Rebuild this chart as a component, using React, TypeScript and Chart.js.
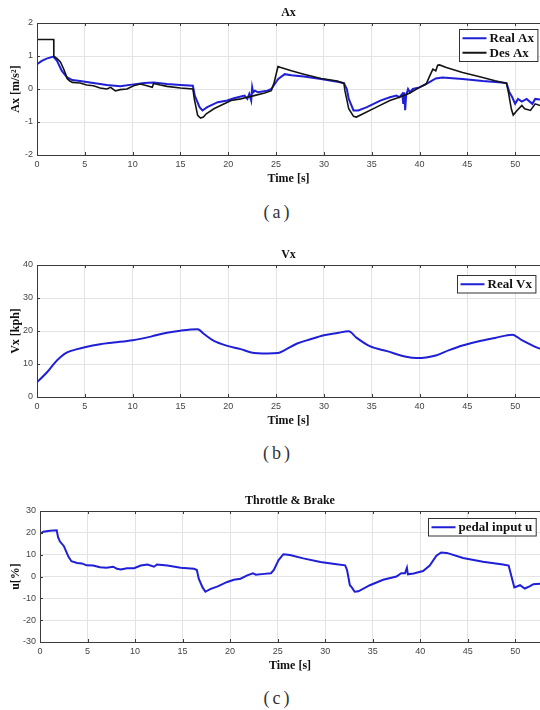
import React, { useEffect, useRef } from "react";
import { Chart, registerables } from "chart.js";

Chart.register(...registerables);

// ---------- data ----------
const X_MAX = 52.6;

const desAxTime = [0, 1.75, 1.76, 2.1, 2.45, 2.8, 3.0, 3.15, 3.4, 3.7, 4.1, 4.5, 5.2, 5.9, 6.6, 7.3, 7.7, 8.2, 8.7, 9.4, 10.1, 10.8, 11.5, 12.05, 12.2, 12.9, 13.6, 15.0, 16.3, 16.45, 16.8, 17.1, 17.4, 17.7, 18.5, 19.2, 20.3, 21.3, 22.0, 22.7, 23.8, 24.5, 24.8, 25.2, 25.5, 26.6, 27.9, 29.7, 31.4, 32.1, 32.2, 32.6, 33.1, 33.4, 34.1, 35.5, 36.9, 37.9, 39.0, 40.0, 40.7, 41.0, 41.4, 41.7, 41.9, 42.1, 42.8, 44.5, 46.2, 47.9, 49.1, 49.3, 49.6, 49.8, 50.2, 50.7, 51.0, 51.6, 52.1, 52.6];
const desAx = [1.5, 1.5, 1.0, 0.92, 0.82, 0.6, 0.45, 0.32, 0.25, 0.2, 0.19, 0.18, 0.12, 0.1, 0.03, 0.0, 0.05, -0.06, -0.02, 0.0, 0.1, 0.15, 0.1, 0.05, 0.17, 0.12, 0.08, 0.03, 0.0, -0.3, -0.8, -0.88, -0.85, -0.75, -0.6, -0.5, -0.35, -0.3, -0.25, -0.2, -0.12, -0.05, 0.2, 0.68, 0.65, 0.55, 0.45, 0.32, 0.24, 0.17, -0.05, -0.6, -0.83, -0.85, -0.75, -0.55, -0.35, -0.25, -0.12, 0.05, 0.15, 0.35, 0.6, 0.55, 0.72, 0.73, 0.65, 0.5, 0.38, 0.25, 0.17, -0.1, -0.6, -0.79, -0.65, -0.5, -0.6, -0.65, -0.45, -0.5];

const realAxTime = [0, 0.5, 1.0, 1.7, 2.1, 2.6, 3.15, 3.7, 4.5, 5.9, 7.3, 8.7, 10.1, 11.2, 12.2, 13.6, 15.0, 16.3, 16.5, 17.0, 17.3, 17.8, 18.9, 19.9, 20.6, 21.7, 22.0, 22.2, 22.4, 22.5, 22.6, 22.8, 23.1, 24.1, 24.5, 25.2, 25.9, 26.6, 27.9, 29.7, 31.4, 32.1, 32.4, 32.6, 33.1, 33.6, 34.5, 35.9, 36.9, 37.6, 37.9, 38.2, 38.3, 38.4, 38.5, 38.6, 38.8, 39.0, 39.3, 40.0, 41.0, 41.7, 42.4, 44.5, 46.6, 48.6, 49.1, 49.4, 49.7, 50.0, 50.3, 50.7, 51.2, 51.8, 52.1, 52.6];
const realAx = [0.75, 0.85, 0.92, 0.98, 0.85, 0.55, 0.35, 0.27, 0.24, 0.18, 0.12, 0.08, 0.14, 0.18, 0.2, 0.15, 0.12, 0.1, -0.2, -0.55, -0.65, -0.55, -0.4, -0.35, -0.28, -0.2, -0.3, -0.15, -0.35, 0.05, -0.1, -0.05, -0.1, -0.05, 0.0, 0.3, 0.45, 0.42, 0.38, 0.3, 0.22, 0.18, 0.0, -0.3, -0.65, -0.65, -0.55, -0.35, -0.25, -0.2, -0.25, -0.15, -0.45, -0.1, -0.64, -0.2, 0.0, -0.1, 0.0, 0.05, 0.2, 0.32, 0.35, 0.3, 0.24, 0.2, 0.18, -0.1, -0.25, -0.45, -0.3, -0.38, -0.3, -0.45, -0.3, -0.32];

const vxTime = [0, 1.05, 1.9, 2.5, 3.15, 4.2, 5.0, 6.6, 8.0, 10.0, 11.9, 13.6, 15.0, 16.8, 17.5, 18.5, 19.9, 21.3, 22.4, 24.1, 25.2, 25.9, 27.2, 28.6, 30.0, 31.4, 32.6, 33.4, 34.8, 36.6, 38.6, 39.7, 40.7, 41.7, 43.1, 44.5, 46.2, 47.9, 49.7, 50.7, 52.1, 52.6];
const realVx = [4.5, 7.5, 10.5, 12.2, 13.5, 14.5, 15.1, 16.0, 16.5, 17.2, 18.3, 19.5, 20.1, 20.5, 19.0, 17.0, 15.5, 14.5, 13.5, 13.2, 13.3, 14.2, 16.2, 17.5, 18.7, 19.4, 19.9, 18.0, 15.4, 13.9, 12.2, 11.8, 12.0, 12.6, 14.2, 15.6, 16.9, 17.9, 18.9, 17.2, 15.2, 14.6];

const pedalTime = [0, 0.35, 1.05, 1.76, 1.9, 2.1, 2.5, 2.6, 3.0, 3.3, 3.9, 4.4, 4.9, 5.6, 6.3, 7.0, 7.7, 8.1, 8.5, 9.15, 9.9, 10.6, 11.3, 12.0, 12.3, 13.4, 14.8, 16.2, 16.5, 16.7, 17.1, 17.4, 17.9, 18.7, 19.7, 20.4, 21.1, 21.8, 22.4, 22.7, 23.6, 24.3, 24.6, 25.1, 25.6, 26.3, 27.7, 29.5, 31.2, 32.1, 32.3, 32.6, 32.8, 33.1, 33.5, 34.7, 36.1, 37.5, 38.0, 38.4, 38.6, 38.7, 39.3, 40.3, 41.0, 41.7, 42.2, 42.8, 44.5, 46.6, 48.7, 49.3, 49.6, 49.9, 50.5, 51.0, 51.5, 51.9, 52.6];
const pedalU = [19.5, 20.5, 21.0, 21.2, 18.0, 16.0, 14.0, 13.0, 9.0, 7.0, 6.2, 6.0, 5.1, 5.0, 4.2, 4.0, 4.5, 3.5, 3.2, 3.8, 3.8, 5.0, 5.5, 4.5, 5.5, 5.0, 4.0, 3.5, 3.0, -1.0, -5.0, -7.0, -5.8, -4.5, -2.5, -1.5, -1.0, 0.5, 1.5, 0.8, 1.2, 1.5, 3.0, 7.5, 10.2, 9.8, 8.3, 6.6, 5.6, 5.1, 3.0, -4.0, -5.0, -7.0, -6.8, -4.0, -1.5, 0.0, 1.5, 1.5, 4.0, 1.0, 1.4, 2.5, 5.0, 9.5, 11.0, 10.8, 8.5, 6.8, 5.5, 5.0, 0.0, -5.0, -4.0, -5.5, -4.5, -3.5, -3.3];

const xTickStep = 5;
const axRange = [-2, 2, 1];
const vxRange = [0, 40, 10];
const uRange = [-30, 30, 10];

// ---------- styles ----------
const BLUE = "#1f1fd6";
const BLACK = "#141414";
const SERIF = "'Liberation Serif', 'Times New Roman', serif";
const SANS = "'Liberation Sans', Arial, sans-serif";

function pts(t: number[], v: number[]) {
  const n = Math.min(t.length, v.length);
  const out: { x: number; y: number }[] = [];
  for (let i = 0; i < n; i++) out.push({ x: t[i], y: v[i] });
  return out;
}

const framePlugin = {
  id: "frame",
  afterDatasetsDraw(chart: any) {
    const { ctx, chartArea: a, scales } = chart;
    ctx.save();
    ctx.strokeStyle = "#3a3a3a";
    ctx.lineWidth = 1;
    ctx.beginPath();
    ctx.moveTo(a.left + 0.5, a.bottom + 0.5);
    ctx.lineTo(a.left + 0.5, a.top + 0.5);
    ctx.lineTo(a.right + 0.5, a.top + 0.5);
    ctx.moveTo(a.left + 0.5, a.bottom + 0.5);
    ctx.lineTo(a.right, a.bottom + 0.5);
    const tl = 3;
    scales.x.ticks.forEach((tk: any) => {
      const px = Math.round(scales.x.getPixelForValue(tk.value)) + 0.5;
      ctx.moveTo(px, a.top);
      ctx.lineTo(px, a.top + tl);
      ctx.moveTo(px, a.bottom);
      ctx.lineTo(px, a.bottom - tl);
    });
    scales.y.ticks.forEach((tk: any) => {
      const py = Math.round(scales.y.getPixelForValue(tk.value)) + 0.5;
      ctx.moveTo(a.left, py);
      ctx.lineTo(a.left + tl, py);
    });
    ctx.stroke();
    ctx.restore();
  },
};

const boxLegendPlugin = {
  id: "boxLegend",
  afterDraw(chart: any, _args: any, opts: any) {
    const { ctx, chartArea: a } = chart;
    const ds = chart.data.datasets;
    ctx.save();
    ctx.font = "bold 13px " + SERIF;
    let tw = 0;
    ds.forEach((d: any) => (tw = Math.max(tw, ctx.measureText(d.label).width)));
    const lineLen = 24;
    const rowH = 14.5;
    const w = 3 + lineLen + 3 + tw + 4;
    const h = ds.length * rowH + 3;
    const right = a.right - (opts.right ?? 3);
    const left = Math.round(right - w) + 0.5;
    const top = Math.round(a.top + (opts.top ?? 6)) + 0.5;
    ctx.fillStyle = "#ffffff";
    ctx.fillRect(left, top, w, h);
    ctx.strokeStyle = "#333";
    ctx.lineWidth = 1;
    ctx.strokeRect(left, top, w, h);
    ds.forEach((d: any, i: number) => {
      const cy = top + 1.5 + rowH * (i + 0.5);
      ctx.strokeStyle = d.borderColor;
      ctx.lineWidth = 2;
      ctx.beginPath();
      ctx.moveTo(left + 3, cy);
      ctx.lineTo(left + 3 + lineLen, cy);
      ctx.stroke();
      ctx.fillStyle = "#111";
      ctx.textBaseline = "middle";
      ctx.textAlign = "left";
      ctx.fillText(d.label, left + 3 + lineLen + 3, cy + 0.5);
    });
    ctx.restore();
  },
};

type PanelProps = {
  top: number;
  plotLeft: number;
  plotHeight: number;
  title: string;
  yTitle: string;
  yRange: number[];
  datasets: any[];
  legendTop: number;
  legendRight: number;
};

const TITLE_BLOCK = 23;
const XAXIS_BLOCK = 31;

function Panel(props: PanelProps) {
  const ref = useRef<HTMLCanvasElement | null>(null);
  const height = TITLE_BLOCK + props.plotHeight + XAXIS_BLOCK;
  useEffect(() => {
    if (!ref.current) return;
    const chart = new Chart(ref.current, {
      type: "line",
      data: { datasets: props.datasets },
      plugins: [framePlugin, boxLegendPlugin],
      options: {
        responsive: false,
        animation: false,
        devicePixelRatio: 1,
        layout: { padding: 0 },
        elements: { point: { radius: 0 } },
        plugins: {
          legend: { display: false },
          tooltip: { enabled: false },
          title: {
            display: true,
            text: props.title,
            fullSize: false,
            color: "#111",
            font: { family: SERIF, size: 12, weight: "bold" },
            padding: { top: 6, bottom: 2.6 },
          },
          boxLegend: { top: props.legendTop, right: props.legendRight },
        } as any,
        scales: {
          x: {
            type: "linear",
            min: 0,
            max: X_MAX,
            afterFit: (s: any) => {
              s.height = XAXIS_BLOCK;
            },
            ticks: {
              stepSize: xTickStep,
              includeBounds: false,
              color: "#444",
              font: { family: SANS, size: 9 },
              padding: 4,
              maxRotation: 0,
            },
            grid: { color: "#e3e3e3", drawTicks: false },
            border: { display: false },
            title: {
              display: true,
              text: "Time [s]",
              color: "#111",
              font: { family: SERIF, size: 12, weight: "bold" },
              padding: { top: 0, bottom: 0 },
            },
          },
          y: {
            type: "linear",
            min: props.yRange[0],
            max: props.yRange[1],
            afterFit: (s: any) => {
              s.width = props.plotLeft;
            },
            ticks: {
              stepSize: props.yRange[2],
              color: "#444",
              font: { family: SANS, size: 9 },
              padding: 4,
            },
            grid: { color: "#e3e3e3", drawTicks: false },
            border: { display: false },
            title: {
              display: true,
              text: props.yTitle,
              color: "#111",
              font: { family: SERIF, size: 12, weight: "bold" },
              padding: { top: 9, bottom: 0 },
            },
          },
        },
      } as any,
    });
    return () => chart.destroy();
  }, []);
  return (
    <div style={{ position: "absolute", left: 0, top: props.top, width: 540, height }}>
      <canvas ref={ref} width={540} height={height} style={{ display: "block" }} />
    </div>
  );
}

const captionStyle = (top: number): React.CSSProperties => ({
  position: "absolute",
  left: 0,
  width: 556,
  top,
  textAlign: "center",
  fontFamily: "'Liberation Serif', 'DejaVu Serif', serif",
  fontSize: 18,
  lineHeight: "20px",
  letterSpacing: 3,
  color: "#333",
});

export default function App() {
  const axSets = [
    { label: "Real Ax", data: pts(realAxTime, realAx), borderColor: BLUE, borderWidth: 2, order: 1, tension: 0 },
    { label: "Des Ax", data: pts(desAxTime, desAx), borderColor: BLACK, borderWidth: 1.6, order: 0, tension: 0 },
  ];
  const vxSets = [
    { label: "Real Vx", data: pts(vxTime, realVx), borderColor: BLUE, borderWidth: 2, cubicInterpolationMode: "monotone" },
  ];
  const uSets = [
    { label: "pedal input u", data: pts(pedalTime, pedalU), borderColor: BLUE, borderWidth: 2, tension: 0 },
  ];
  return (
    <div style={{ position: "absolute", left: 0, top: 0, width: 540, height: 710, background: "#fff", overflow: "hidden" }}>
      <Panel top={0} plotLeft={37} plotHeight={132} title="Ax" yTitle="Ax [m/s²]" yRange={axRange} datasets={axSets} legendTop={5.5} legendRight={2.5} />
      <div style={captionStyle(202)}>(a)</div>
      <Panel top={242} plotLeft={37} plotHeight={132} title="Vx" yTitle="Vx [kph]" yRange={vxRange} datasets={vxSets} legendTop={9.5} legendRight={4.5} />
      <div style={captionStyle(443)}>(b)</div>
      <Panel top={488} plotLeft={40} plotHeight={131} title="Throttle & Brake" yTitle="u[%]" yRange={uRange} datasets={uSets} legendTop={7} legendRight={4.5} />
      <div style={captionStyle(688)}>(c)</div>
    </div>
  );
}
